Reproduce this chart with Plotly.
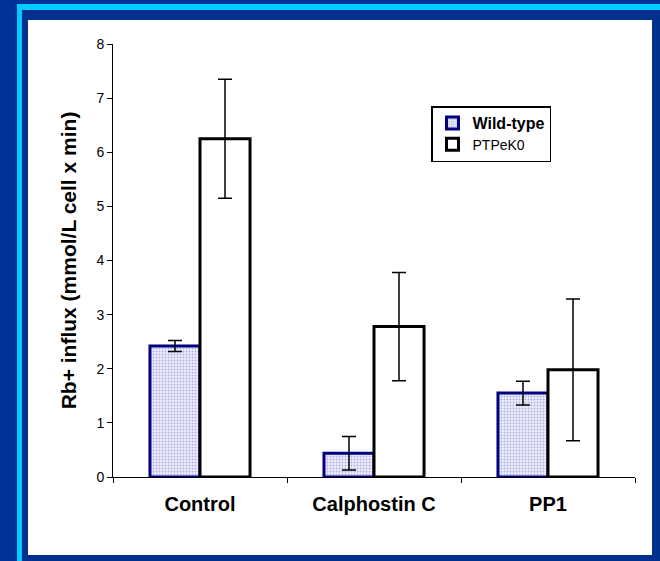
import plotly.graph_objects as go

categories = ["Control", "Calphostin C", "PP1"]
wild_type = [2.42, 0.44, 1.55]
wild_type_err = [0.10, 0.31, 0.22]
ptpek0 = [6.25, 2.78, 1.98]
ptpek0_err = [1.10, 1.00, 1.31]
series_names = ['<span style="font-size:16px"><b>Wild-type</b></span>', "PTPeK0"]
y_title = "Rb+ influx (mmol/L cell x min)"

W, H = 660, 561
L, R, T, B = 113, 25, 44, 84
pw, ph = W - L - R, H - T - B

def px(x):
    return (x - L) / pw

def py(y):
    return (H - B - y) / ph

font_family = "Liberation Sans, Arial, sans-serif"

fig = go.Figure()
fig.add_trace(go.Bar(
    x=categories, y=wild_type, name=series_names[0],
    marker=dict(color="#d4d4f2", line=dict(color="#000080", width=3),
                pattern=dict(shape=".", fgcolor="#7070cc", bgcolor="#ececfb", size=3, solidity=0.3)),
    error_y=dict(type="data", array=wild_type_err, color="black", thickness=1.5, width=7),
))
fig.add_trace(go.Bar(
    x=categories, y=ptpek0, name=series_names[1],
    marker=dict(color="white", line=dict(color="black", width=3)),
    error_y=dict(type="data", array=ptpek0_err, color="black", thickness=1.5, width=7),
))

shapes = [
    dict(type="rect", xref="paper", yref="paper", x0=px(17), x1=px(22), y0=py(561), y1=py(4),
         fillcolor="#00ccff", line=dict(width=0), layer="below"),
    dict(type="rect", xref="paper", yref="paper", x0=px(17), x1=px(660), y0=py(10), y1=py(4),
         fillcolor="#00ccff", line=dict(width=0), layer="below"),
    dict(type="rect", xref="paper", yref="paper", x0=px(22), x1=px(660), y0=py(561), y1=py(10),
         fillcolor="#003090", line=dict(width=0), layer="below"),
    dict(type="rect", xref="paper", yref="paper", x0=px(28), x1=px(652), y0=py(555), y1=py(20),
         fillcolor="white", line=dict(width=0), layer="below"),
]

fig.update_layout(
    width=W, height=H,
    margin=dict(l=L, r=R, t=T, b=B),
    paper_bgcolor="#003399",
    plot_bgcolor="rgba(0,0,0,0)",
    barmode="group", bargap=0.425, bargroupgap=0,
    font=dict(family=font_family, color="black"),
    shapes=shapes,
    showlegend=True,
    legend=dict(x=px(431), y=py(106), xanchor="left", yanchor="top",
                bgcolor="white", bordercolor="black", borderwidth=1.5,
                font=dict(size=14, family=font_family), tracegroupgap=0,
                itemwidth=30),
    xaxis=dict(showline=True, linecolor="black", linewidth=1, ticks="outside",
               tickson="boundaries", ticklen=5, tickcolor="black", ticklabelstandoff=9,
               tickfont=dict(size=20, family=font_family, weight="bold"), showgrid=False),
    yaxis=dict(range=[0, 8], dtick=1, showline=True, linecolor="black", linewidth=1,
               ticks="outside", ticklen=5, tickcolor="black", showgrid=False, zeroline=False,
               tickfont=dict(size=14, family=font_family),
               title=dict(text="<b>" + y_title + "</b>", font=dict(size=21, family=font_family), standoff=14)),
)

fig.write_html("out.html")
